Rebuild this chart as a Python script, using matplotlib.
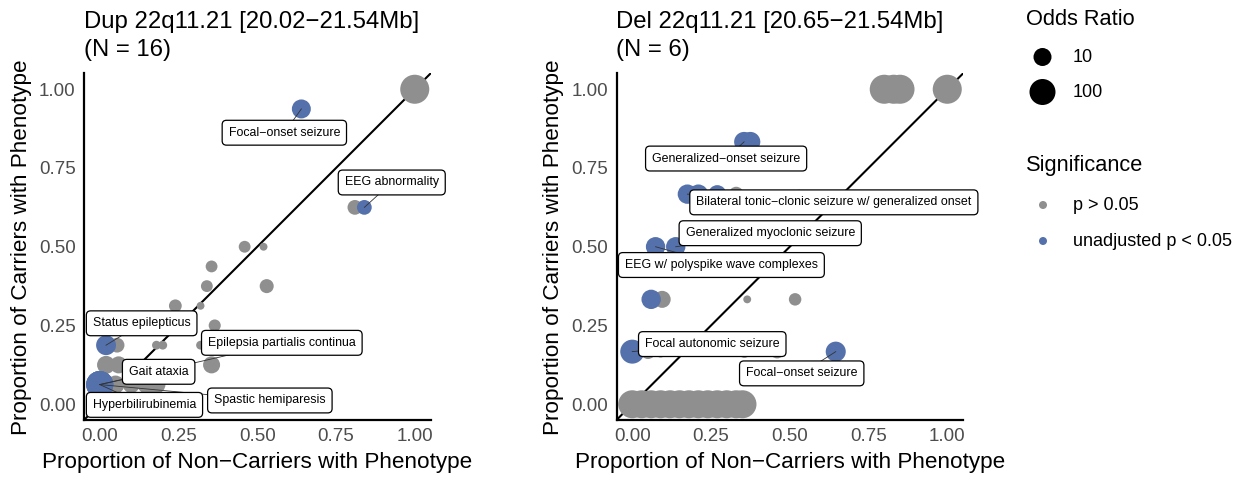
import numpy as np
import matplotlib
matplotlib.use("Agg")
import matplotlib.pyplot as plt

plt.rcParams['font.family'] = ['Liberation Sans', 'DejaVu Sans']

GRAY = "#8f8f8f"
BLUE = "#5471ab"

# ---- Dup 22q11.21 (N = 16) ----
dup_gray_x = [1.00, 0.81, 0.46, 0.52, 0.355, 0.34, 0.53, 0.24, 0.32, 0.365,
              0.055, 0.18, 0.20, 0.32, 0.355, 0.02, 0.06, 0.27,
              0.05, 0.10, 0.15, 0.18, 0.03, 0.08]
dup_gray_y = [1.00, 0.625, 0.50, 0.50, 0.4375, 0.375, 0.375, 0.3125, 0.3125, 0.25,
              0.1875, 0.1875, 0.1875, 0.1875, 0.125, 0.125, 0.125, 0.125,
              0.0625, 0.0625, 0.0625, 0.0625, 0.0, 0.0]
dup_gray_or = [300, 5, 3, 1.8, 3, 3, 0.23, 3.5, 1.8, 0.32,
               5, 2, 2, 0.5, 0.125, 10, 8, 0.4,
               10, 8, 12, 10, 0.05, 0.05]

dup_sig_x = [0.64, 0.84, 0.02, 0.0, 0.0, 0.0, 0.0]
dup_sig_y = [0.9375, 0.625, 0.1875, 0.0625, 0.0625, 0.0625, 0.0625]
dup_sig_or = [12.7, 5, 16, 140, 140, 140, 140]
dup_sig_names = ["Focal\u2212onset seizure", "EEG abnormality", "Status epilepticus",
                 "Epilepsia partialis continua", "Gait ataxia",
                 "Hyperbilirubinemia", "Spastic hemiparesis"]
dup_label_x = [0.586, 0.927, 0.133, 0.578, 0.187, 0.142, 0.540]
dup_label_y = [0.862, 0.704, 0.257, 0.195, 0.103, -0.002, 0.012]

# ---- Del 22q11.21 (N = 6) ----
del_gray_x = [0.80, 0.83, 0.85, 1.00,
              0.33, 0.53,
              0.095, 0.365, 0.517,
              0.05, 0.09, 0.20, 0.356, 0.46,
              0.0, 0.03, 0.06, 0.09, 0.12, 0.15, 0.18, 0.21, 0.24, 0.27, 0.30, 0.33, 0.35]
del_gray_y = [1.0, 1.0, 1.0, 1.0,
              0.667, 0.667,
              0.333, 0.333, 0.333,
              0.167, 0.167, 0.167, 0.167, 0.167,
              0.0, 0.0, 0.0, 0.0, 0.0, 0.0, 0.0, 0.0, 0.0, 0.0, 0.0, 0.0, 0.0]
del_gray_or = [300, 300, 300, 300,
               5, 2,
               8, 1.8, 0.3,
               5, 3, 0.4, 0.3, 0.25,
               0.005, 0.005, 0.005, 0.005, 0.005, 0.005, 0.005, 0.005, 0.005,
               0.005, 0.005, 0.005, 0.005]

del_sig_x = [0.355, 0.375, 0.175, 0.21, 0.27, 0.074, 0.138, 0.06, 0.0, 0.646]
del_sig_y = [0.833, 0.833, 0.667, 0.667, 0.667, 0.5, 0.5, 0.333, 0.167, 0.167]
del_sig_or = [16, 16, 14, 14, 10, 14, 14, 14, 52, 0.06]
del_label_idx = [0, 2, 6, 5, 8, 9]
del_sig_names = ["Generalized\u2212onset seizure",
                 "Bilateral tonic\u2212clonic seizure w/ generalized onset",
                 "Generalized myoclonic seizure",
                 "EEG w/ polyspike wave complexes",
                 "Focal autonomic seizure",
                 "Focal\u2212onset seizure"]
del_label_x = [0.298, 0.640, 0.438, 0.283, 0.254, 0.538]
del_label_y = [0.780, 0.641, 0.543, 0.442, 0.191, 0.098]

ticks = [0.0, 0.25, 0.5, 0.75, 1.0]
tick_labels = ["0.00", "0.25", "0.50", "0.75", "1.00"]
legend_or = [10, 100]
legend_or_labels = ["10", "100"]
sig_levels = ["p > 0.05", "unadjusted p < 0.05"]

DPI = 100
W, H = 1245, 478


def marker_area(odds):
    """Circle area (pt^2) from the odds ratio on a log scale."""
    odds = np.asarray(odds, dtype=float)
    d2 = 352.0 * np.abs(np.log10(odds)) - 28.0
    d2 = np.clip(d2, 50.0, 900.0)  # squared diameter in pixels
    return d2 * (72.0 / DPI) ** 2


fig = plt.figure(figsize=(W / DPI, H / DPI), dpi=DPI)


def px_axes(left, top, right, bottom):
    return fig.add_axes([left / W, 1 - bottom / H, (right - left) / W, (bottom - top) / H])


def panel(ax, title, gx, gy, gor, sx, sy, sor, lx, ly, names, idx):
    ax.set_xlim(-0.05, 1.05)
    ax.set_ylim(-0.05, 1.05)
    ax.axline((0, 0), (1, 1), color="black", lw=1.5, zorder=1)
    ax.scatter(gx, gy, s=marker_area(gor), color=GRAY, edgecolors="none", zorder=2)
    ax.scatter(sx, sy, s=marker_area(sor), color=BLUE, edgecolors="none", zorder=3)
    for name, x, y, i in zip(names, lx, ly, idx):
        ax.plot([x, sx[i]], [y, sy[i]], color="#333333", lw=0.6, zorder=4)
        ax.text(x, y, name, ha="center", va="center", fontsize=8.9, zorder=5,
                bbox=dict(boxstyle="round,pad=0.52,rounding_size=0.35",
                          fc="white", ec="black", lw=0.9))
    ax.set_xticks(ticks)
    ax.set_xticklabels(tick_labels)
    ax.set_yticks(ticks)
    ax.set_yticklabels(tick_labels)
    ax.tick_params(length=0, labelsize=13.5, labelcolor="#4d4d4d", pad=6)
    for side in ("top", "right"):
        ax.spines[side].set_visible(False)
    for side in ("left", "bottom"):
        ax.spines[side].set_linewidth(1.6)
    ax.set_xlabel("Proportion of Non\u2212Carriers with Phenotype", fontsize=16.2, labelpad=5)
    ax.set_ylabel("Proportion of Carriers with Phenotype", fontsize=16.2, labelpad=5)
    ax.set_title(title, loc="left", fontsize=17.2, pad=12.5, linespacing=1.35)


ax1 = px_axes(84, 73.5, 430.5, 420)
panel(ax1, "Dup 22q11.21 [20.02\u221221.54Mb]\n(N = 16)",
      dup_gray_x, dup_gray_y, dup_gray_or,
      dup_sig_x, dup_sig_y, dup_sig_or,
      dup_label_x, dup_label_y, dup_sig_names, list(range(len(dup_sig_names))))

ax2 = px_axes(616.5, 73.5, 963, 420)
panel(ax2, "Del 22q11.21 [20.65\u221221.54Mb]\n(N = 6)",
      del_gray_x, del_gray_y, del_gray_or,
      del_sig_x, del_sig_y, del_sig_or,
      del_label_x, del_label_y, del_sig_names, del_label_idx)

# Legends drawn in a blank axes laid out in pixel units
lg = px_axes(990, 0, W, H)
lg.set_xlim(990, W)
lg.set_ylim(H, 0)
lg.axis("off")
lg.text(1026, 19, "Odds Ratio", fontsize=15.7, va="center", ha="left")
for k, (o, lab) in enumerate(zip(legend_or, legend_or_labels)):
    yy = 57 + 35 * k
    lg.scatter([1042.5], [yy], s=marker_area([o]), color="black", edgecolors="none")
    lg.text(1073, yy, lab, fontsize=13, va="center", ha="left")
lg.text(1026, 166, "Significance", fontsize=15.7, va="center", ha="left")
for k, (lab, c) in enumerate(zip(sig_levels, [GRAY, BLUE])):
    yy = 205 + 36 * k
    lg.scatter([1043], [yy], s=(8 * 72 / DPI) ** 2, color=c, edgecolors="none")
    lg.text(1073, yy, lab, fontsize=13, va="center", ha="left")

fig.savefig("out.png", dpi=DPI)
